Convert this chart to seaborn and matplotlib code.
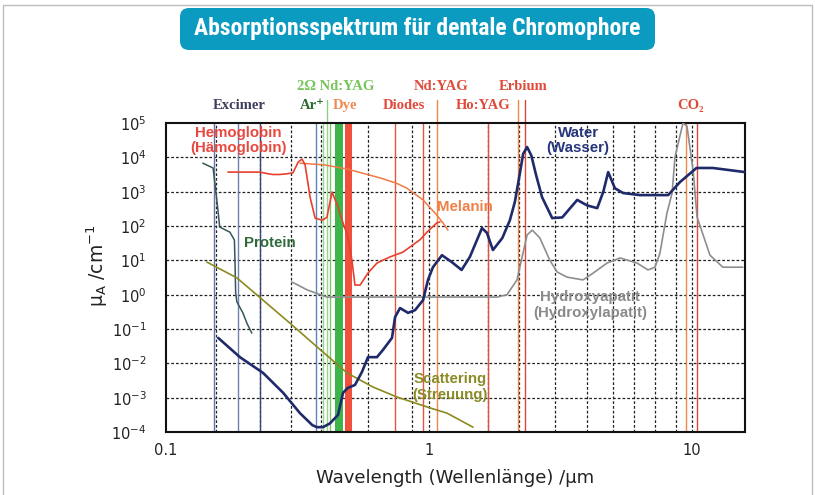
import numpy as np
import pandas as pd
import matplotlib
matplotlib.use("Agg")
import matplotlib.pyplot as plt
import seaborn as sns
from matplotlib import font_manager
from matplotlib.patches import FancyBboxPatch, Rectangle
from matplotlib.transforms import IdentityTransform

# absorption curves: wavelength in µm, value as log10(µA in cm^-1)
water_wl = [0.158, 0.191, 0.234, 0.279, 0.323, 0.36, 0.375, 0.395, 0.42, 0.451, 0.471, 0.49,
            0.523, 0.556, 0.586, 0.634, 0.668, 0.723, 0.743, 0.776, 0.832, 0.885, 0.949, 0.991,
            1.035, 1.12, 1.22, 1.33, 1.43, 1.59, 1.66, 1.75, 1.9, 2.03, 2.12, 2.2, 2.28, 2.36,
            2.45, 2.55, 2.69, 2.94, 3.21, 3.66, 3.99, 4.36, 4.6, 4.8, 5.09, 5.47, 6.34, 8.11,
            9.0, 10.4, 12.0, 15.9]
water_log = [-1.26, -1.82, -2.28, -2.86, -3.45, -3.8, -3.86, -3.86, -3.75, -3.5, -2.86, -2.72,
             -2.63, -2.25, -1.82, -1.82, -1.61, -1.26, -0.65, -0.39, -0.53, -0.45, -0.16, 0.43,
             0.8, 1.15, 0.95, 0.72, 1.1, 1.94, 1.8, 1.3, 1.65, 2.17, 2.7, 3.4, 4.1, 4.3,
             4.05, 3.5, 2.84, 2.23, 2.25, 2.76, 2.6, 2.52, 3.0, 3.57, 3.1, 2.96, 2.9, 2.9,
             3.28, 3.69, 3.69, 3.57]

hemo_wl = [0.172, 0.228, 0.245, 0.255, 0.27, 0.288, 0.304, 0.318, 0.329, 0.338, 0.353, 0.369,
           0.392, 0.409, 0.428, 0.451, 0.471, 0.492, 0.509, 0.523, 0.547, 0.586, 0.634, 0.711,
           0.796, 0.924, 0.982, 1.07, 1.10]
hemo_log = [3.57, 3.57, 3.52, 3.5, 3.5, 3.52, 3.55, 3.86, 3.95, 3.78, 2.84, 2.23,
            2.17, 2.25, 2.99, 2.55, 2.09, 1.68, 1.01, 0.28, 0.28, 0.63, 0.92, 1.1,
            1.24, 1.6, 1.82, 2.09, 2.12]

melanin_wl = [0.323, 0.4, 0.488, 0.652, 0.75, 0.824, 0.949, 1.07, 1.13, 1.18]
melanin_log = [3.83, 3.78, 3.66, 3.4, 3.25, 3.1, 2.76, 2.32, 2.09, 1.88]

protein_wl = [0.138, 0.151, 0.154, 0.158, 0.160, 0.175, 0.182, 0.183, 0.184, 0.186, 0.196,
              0.203, 0.212]
protein_log = [3.83, 3.69, 3.14, 2.38, 1.97, 1.82, 1.59, 0.92, 0.05, -0.21, -0.53, -0.83, -1.12]

scatter_wl = [0.143, 0.186, 0.296, 0.375, 0.488, 0.612, 0.755, 1.01, 1.17, 1.47]
scatter_log = [0.95, 0.49, -0.83, -1.52, -2.28, -2.69, -2.98, -3.3, -3.45, -3.86]

hydroxy_wl = [0.301, 0.344, 0.409, 1.82, 1.98, 2.16, 2.26, 2.36, 2.47, 2.64, 2.88, 3.07, 3.35,
              3.85, 4.21, 4.75, 5.33, 6.18, 6.80, 7.23, 7.55, 8.03, 8.40, 8.61, 9.24, 9.57,
              10.1, 10.45, 11.7, 13.1, 15.6]
hydroxy_log = [0.37, 0.14, -0.07, -0.07, 0.0, 0.43, 1.1, 1.74, 1.88, 1.65, 1.0, 0.66, 0.51,
               0.43, 0.63, 0.92, 1.07, 0.92, 0.72, 0.8, 1.21, 2.38, 2.96, 4.0, 5.0, 4.9,
               3.6, 2.26, 1.15, 0.8, 0.8]

# laser wavelengths (µm)
laser_wl = [0.152, 0.188, 0.228, 0.372, 0.395, 0.409, 0.42, 0.743, 0.949, 1.07, 1.67,
            2.18, 2.32, 9.5, 10.4]
green_band = [0.440, 0.471]
red_band = [0.480, 0.509]

# dotted grid positions
grid_wl = [0.155, 0.228, 0.30, 0.39, 0.585, 0.86, 1.0, 1.67, 2.2, 3, 4, 5, 6, 7.2, 8.7, 10]
decades = [-4, -3, -2, -1, 0, 1, 2, 3, 4, 5]

x_ticks = [0.1, 1, 10]
x_ticklabels = ["0.1", "1", "10"]

laser_colors = ["#6474a4", "#7080aa", "#3a4378", "#5a86c0", "#9ad492", "#9ad492", "#7cc56c",
                "#e8553f", "#e8553f", "#f0864a", "#e0503e", "#f0864a", "#e0453a", "#f0864a",
                "#e0453a"]

sns.set_theme(style="white")
plt.rcParams["font.family"] = ["DejaVu Sans"]

installed = {f.name for f in font_manager.fontManager.ttflist}
narrow = [n for n in ["Liberation Sans Narrow", "DejaVu Sans Condensed", "Roboto Condensed",
                      "Open Sans Condensed", "Arial Narrow"] if n in installed]
title_family = narrow[:1] + ["Liberation Sans"]
title_size = 17 if narrow else 13.8

fig = plt.figure(figsize=(8.15, 4.95), dpi=100)
ax = fig.add_axes([166 / 815, 1 - 432 / 495, (745 - 166) / 815, (432 - 123) / 495])
ax.set_xscale("log")
ax.set_yscale("log")
ax.set_xlim(0.1, 15.9)
ax.set_ylim(1e-4, 1e5)

# grid
for d in decades[1:-1]:
    ax.axhline(10.0 ** d, color="#222222", lw=0.9, ls=(0, (2.2, 1.6)), zorder=1)
for g in grid_wl:
    ax.axvline(g, color="#222222", lw=0.9, ls=(0, (2.2, 1.6)), zorder=1)

# laser lines and bands
ax.axvspan(*green_band, color="#3db54a", lw=0, zorder=2)
ax.axvspan(*red_band, color="#f0503c", lw=0, zorder=2)
for wl, c in zip(laser_wl, laser_colors):
    ax.axvline(wl, color=c, lw=1.0, zorder=2)
# lines reaching up into the label strip
for wl, c in [(0.409, "#8fd080"), (1.07, "#f0864a"), (2.18, "#f0864a"), (2.32, "#e0453a")]:
    ax.axvline(wl, ymin=1, ymax=1.075, color=c, lw=1.0, clip_on=False)

curves = [
    (protein_wl, protein_log, "#34585a", 1.1),
    (scatter_wl, scatter_log, "#8c8a1e", 1.2),
    (hydroxy_wl, hydroxy_log, "#8e8e8e", 1.2),
    (melanin_wl, melanin_log, "#f07a45", 1.1),
    (hemo_wl, hemo_log, "#e8402f", 1.2),
    (water_wl, water_log, "#1f2a6b", 1.9),
]
for wl, lg, c, lw in curves:
    df = pd.DataFrame({"wl": wl, "mu": 10.0 ** np.array(lg)})
    sns.lineplot(data=df, x="wl", y="mu", sort=False, estimator=None, color=c, lw=lw,
                 ax=ax, zorder=4)

# curve labels
lab = dict(fontsize=10.8, fontweight="bold", family=["Liberation Sans", "DejaVu Sans"],
           ha="center", va="center", linespacing=1.1, zorder=5)
ax.text(0.188, 10 ** 4.48, "Hemoglobin\n(Hämoglobin)", color="#e8483e", **lab)
ax.text(0.248, 10 ** 1.5, "Protein", color="#2e6a3a", **lab)
ax.text(1.37, 10 ** 2.55, "Melanin", color="#f08048", **lab)
ax.text(3.69, 10 ** 4.5, "Water\n(Wasser)", color="#27357a", **lab)
ax.text(4.09, 10 ** -0.3, "Hydroxyapatit\n(Hydroxylapatit)", color="#8a8a8a", **lab)
ax.text(1.20, 10 ** -2.69, "Scattering\n(Streuung)", color="#8a8a26", **lab)

# laser labels above the frame
tr = ax.get_xaxis_transform()
top = dict(fontsize=10.5, fontweight="bold", family=["Liberation Serif", "DejaVu Serif"],
           ha="center", va="center", transform=tr)
ax.text(0.190, 1.058, "Excimer", color="#3c3c5c", **top)
ax.text(0.443, 1.117, "2Ω Nd:YAG", color="#78c45a", **top)
ax.text(0.359, 1.058, "Ar⁺", color="#2e6a30", **top)
ax.text(0.480, 1.058, "Dye", color="#f08a50", **top)
ax.text(0.803, 1.058, "Diodes", color="#e04a3a", **top)
ax.text(1.11, 1.117, "Nd:YAG", color="#e04a3a", **top)
ax.text(1.60, 1.058, "Ho:YAG", color="#e04a3a", **top)
ax.text(2.28, 1.117, "Erbium", color="#e04a3a", **top)
ax.text(9.9, 1.058, "CO₂", color="#e04a3a", **top)

# axes styling
ax.set_xticks(x_ticks)
ax.set_xticklabels(x_ticklabels)
ax.xaxis.set_minor_locator(matplotlib.ticker.NullLocator())
ax.set_yticks([10.0 ** d for d in decades])
ax.set_yticklabels([r"$\mathregular{10^{%d}}$" % d for d in decades])
ax.yaxis.set_minor_locator(matplotlib.ticker.NullLocator())
ax.tick_params(axis="y", length=0, pad=14, labelsize=10.5, colors="#222222")
ax.tick_params(axis="x", length=0, pad=8, labelsize=10.5, colors="#222222")
ax.set_xlabel("Wavelength (Wellenlänge) /µm", fontsize=13, color="#222222", labelpad=8)
ax.set_ylabel(r"µ$_\mathregular{A}$ /cm$^\mathregular{-1}$", fontsize=13.5, color="#222222")
ax.yaxis.set_label_coords(-0.097, 0.54)
for s in ax.spines.values():
    s.set_color("#111111")
    s.set_linewidth(1.5)
ax.grid(False)

# outer frame and title badge
fig.add_artist(Rectangle((3, -10), 809, 500, transform=IdentityTransform(), fc="none",
                         ec="#bdbdbd", lw=1.0))
fig.add_artist(FancyBboxPatch((180, 495 - 50), 475, 42, boxstyle="round,pad=0,rounding_size=9",
                              transform=IdentityTransform(), fc="#0b9bc1", ec="none"))
fig.text(417.5 / 815, 1 - 29 / 495, "Absorptionsspektrum für dentale Chromophore",
         color="white", fontsize=title_size, fontweight="bold",
         family=title_family, ha="center", va="center")

fig.savefig("out.png", dpi=100)
